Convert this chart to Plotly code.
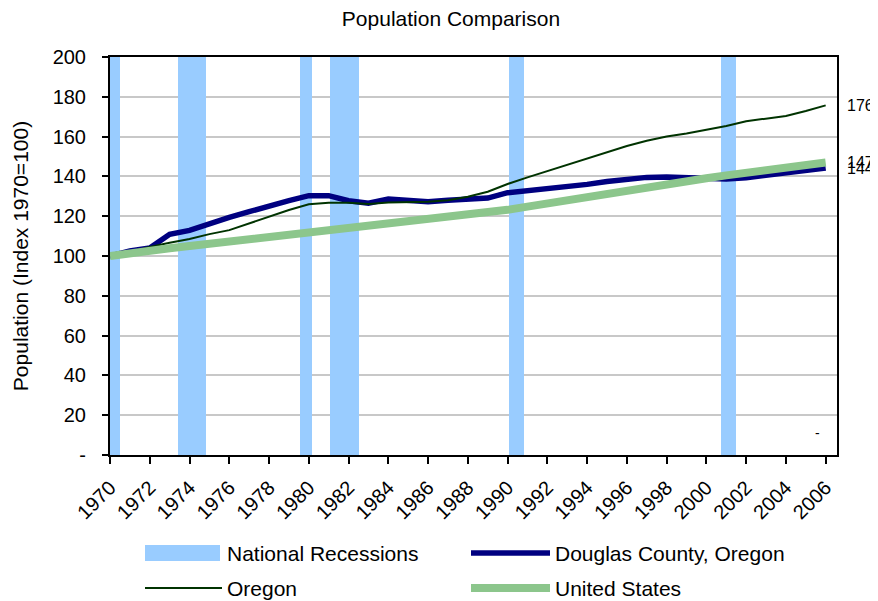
import plotly.graph_objects as go

years = list(range(1970, 2007))

douglas = [100, 102.5, 104, 110.9, 112.9, 116.4, 119.4, 122.3, 125.3, 127.8,
           130.3, 130.3, 127.8, 126.5, 128.6, 127.8, 127.3, 128.0, 128.4, 129.1,
           131.8, 132.8, 133.5, 134.5, 136.0, 137.4, 138.7, 139.5, 139.7, 139.5,
           139.4, 138.7, 139.3, 140.5, 141.7, 142.9, 144.2]

oregon = [100, 102, 104.5, 106.7, 108.5, 111, 113, 116.4, 119.8, 123.1,
          126, 126.8, 126.8, 126.1, 126.9, 127.1, 127.3, 128, 129.8, 132.3,
          136.2, 139.5, 142.7, 146, 149, 152, 155.3, 157.9, 160, 161.6,
          163.3, 165.3, 167.7, 169, 170.4, 172.9, 175.7]

united_states = [100, 101.6, 102.8, 103.9, 105, 106.1, 107.2, 108.4, 109.6, 110.9,
                 112.1, 113.2, 114.3, 115.4, 116.4, 117.4, 118.5, 119.6, 120.7, 121.9,
                 123.2, 124.8, 126.5, 128.2, 129.7, 131.2, 132.8, 134.4, 136.0, 137.5,
                 139.1, 140.5, 141.8, 143.0, 144.3, 145.7, 147.0]

recession_start = [1970.0, 1973.4, 1979.55, 1981.05, 1990.05, 2000.75]
recession_end = [1970.5, 1974.85, 1980.15, 1982.55, 1990.85, 2001.5]
recession_height = 200

y_ticks = [0, 20, 40, 60, 80, 100, 120, 140, 160, 180, 200]
y_tick_text = ["-", "20", "40", "60", "80", "100", "120", "140", "160", "180", "200"]
x_ticks = list(range(1970, 2007, 2))

series_names = ["National Recessions", "Douglas County, Oregon", "Oregon", "United States"]
colors = {"National Recessions": "#99ccff", "Douglas County, Oregon": "#000080",
          "Oregon": "#003300", "United States": "#8cc68c"}
widths = {"Douglas County, Oregon": 5.5, "Oregon": 2, "United States": 8}

FONT = "Liberation Sans, Arial, sans-serif"
W, H = 878, 601
OFF = 8  # the page places the figure 8px in from the top-left corner
# plot area in window pixels: x 110..837, y 57..455
L, T = 110 - OFF, 57 - OFF
R, B = W - (837 - OFF), H - (455 - OFF)
PW, PH = W - L - R, H - T - B


def px(x):
    # window pixel -> paper fraction
    return (x - OFF - L) / PW


def py(y):
    return (H - B - (y - OFF)) / PH


fig = go.Figure()

fig.add_trace(go.Bar(
    x=[(s + e) / 2 for s, e in zip(recession_start, recession_end)],
    y=[recession_height] * len(recession_start),
    width=[e - s for s, e in zip(recession_start, recession_end)],
    marker=dict(color=colors["National Recessions"], line=dict(width=0)),
    name="National Recessions", hoverinfo="skip",
))
for name, vals in (("Douglas County, Oregon", douglas), ("Oregon", oregon),
                   ("United States", united_states)):
    fig.add_trace(go.Scatter(
        x=years, y=vals, mode="lines", name=name,
        line=dict(color=colors[name], width=widths[name]),
    ))

annotations = []
for series in (oregon, united_states, douglas):
    annotations.append(dict(
        x=1, xref="paper", y=series[-1], yref="y",
        text=f"{round(series[-1])}", showarrow=False,
        xanchor="left", yanchor="middle", xshift=8,
        font=dict(family=FONT, size=16, color="black"),
    ))
annotations.append(dict(
    x=years[-1], y=0, xref="x", yref="y", text="-", showarrow=False,
    xanchor="right", yanchor="bottom", yshift=12, xshift=-4,
    font=dict(family=FONT, size=14, color="black"),
))

# manual legend (two columns, two rows), window pixel positions
shapes = []
legend_slots = [(145, 225, 553), (471, 553, 553), (145, 225, 588), (471, 553, 588)]
for name, (sx, tx, cy) in zip(series_names, legend_slots):
    if name == "National Recessions":
        shapes.append(dict(type="rect", xref="paper", yref="paper",
                           x0=px(sx), x1=px(tx - 5), y0=py(cy + 8), y1=py(cy - 8),
                           fillcolor=colors[name], line=dict(width=0)))
    elif name == "United States":
        shapes.append(dict(type="rect", xref="paper", yref="paper",
                           x0=px(sx), x1=px(tx - 3), y0=py(cy + 4), y1=py(cy - 4),
                           fillcolor=colors[name], line=dict(width=0)))
    else:
        shapes.append(dict(type="line", xref="paper", yref="paper",
                           x0=px(sx), x1=px(tx - 3), y0=py(cy), y1=py(cy),
                           line=dict(color=colors[name], width=widths[name])))
    annotations.append(dict(x=px(tx), y=py(cy), xref="paper", yref="paper",
                            text=name, showarrow=False, xanchor="left",
                            yanchor="middle",
                            font=dict(family=FONT, size=21, color="black")))

fig.update_layout(
    width=W, height=H,
    margin=dict(l=L, r=R, t=T, b=B),
    paper_bgcolor="white", plot_bgcolor="white",
    title=dict(text="Population Comparison", x=(451 - OFF) / W, xanchor="center",
               xref="container", y=1 - (19 - OFF) / H, yanchor="middle",
               font=dict(family=FONT, size=21, color="black")),
    font=dict(family=FONT, size=20, color="black"),
    bargap=0,
    showlegend=False,
    annotations=annotations,
    shapes=shapes,
)

fig.update_xaxes(
    range=[1970, 2006.57], tickvals=x_ticks, ticktext=[str(v) for v in x_ticks],
    tickangle=-45, ticks="outside", ticklen=7, tickwidth=2, tickcolor="black",
    showline=True, linecolor="black", linewidth=2, mirror=True,
    showgrid=False, zeroline=False, automargin=False,
    ticklabelstandoff=4,
    tickfont=dict(family=FONT, size=20, color="black"),
)
fig.update_yaxes(
    range=[0, 200], tickvals=y_ticks, ticktext=y_tick_text,
    ticks="outside", ticklen=6, tickwidth=2, tickcolor="black",
    showline=True, linecolor="black", linewidth=2, mirror=True,
    showgrid=True, gridcolor="#c8c8c8", gridwidth=1.5, zeroline=False,
    automargin=False, ticklabelstandoff=12,
    title=dict(text="Population (Index 1970=100)", standoff=18,
               font=dict(family=FONT, size=21, color="black")),
    tickfont=dict(family=FONT, size=20, color="black"),
)

fig.write_html("out.html")
